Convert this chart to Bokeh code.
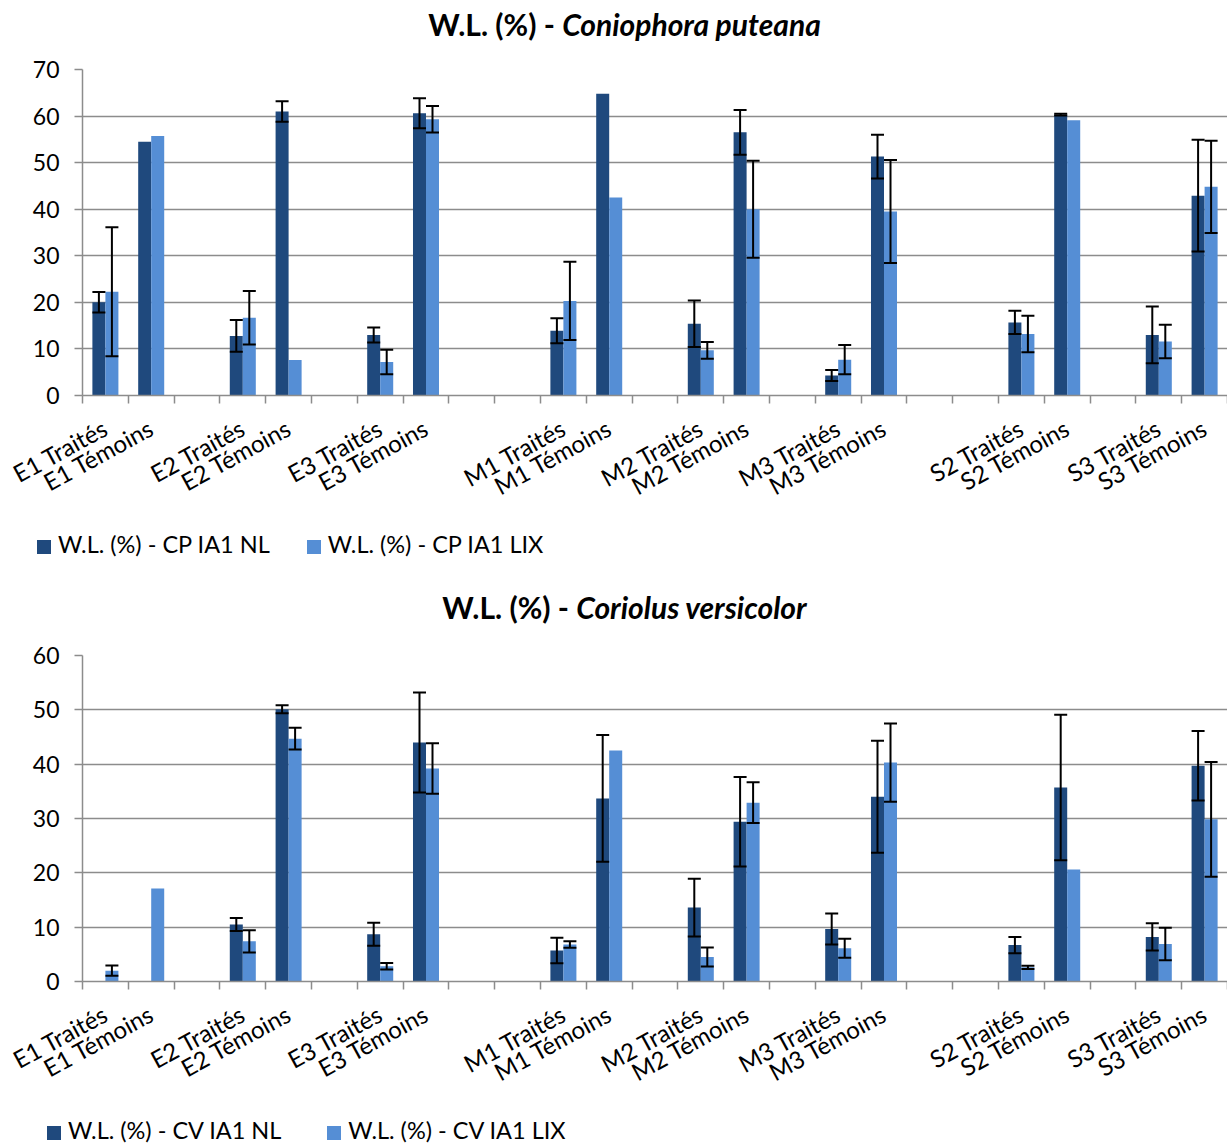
import numpy as np
from bokeh.plotting import figure
from bokeh.models import (ColumnDataSource, Range1d, FixedTicker, Whisker, TeeHead, Div)
from bokeh.layouts import column
from bokeh.embed import file_html
from bokeh.resources import INLINE

# ---------------- data ----------------
categories = ["E1 Traités", "E1 Témoins", "", "E2 Traités", "E2 Témoins", "",
              "E3 Traités", "E3 Témoins", "", "",
              "M1 Traités", "M1 Témoins", "", "M2 Traités", "M2 Témoins", "",
              "M3 Traités", "M3 Témoins", "", "",
              "S2 Traités", "S2 Témoins", "", "S3 Traités", "S3 Témoins"]

# values for the non-blank categories, in order
cp_nl = [20.0, 54.5, 12.8, 61.0, 13.0, 60.6, 13.9, 64.8, 15.4, 56.5, 4.3, 51.3, 15.7, 60.3, 13.0, 42.9]
cp_nl_err = [2.2, None, 3.4, 2.2, 1.6, 3.2, 2.7, None, 5.0, 4.8, 1.2, 4.7, 2.5, 0.2, 6.1, 12.0]
cp_lix = [22.3, 55.7, 16.7, 7.6, 7.2, 59.3, 20.3, 42.5, 9.7, 40.0, 7.7, 39.5, 13.2, 59.1, 11.6, 44.8]
cp_lix_err = [13.85, None, 5.75, None, 2.65, 2.85, 8.4, None, 1.8, 10.4, 3.15, 11.05, 3.9, None, 3.6, 9.9]

cv_nl = [None, None, 10.5, 50.1, 8.7, 44.0, 5.7, 33.7, 13.6, 29.4, 9.65, 34.0, 6.7, 35.7, 8.2, 39.7]
cv_nl_err = [None, None, 1.2, 0.75, 2.1, 9.2, 2.35, 11.65, 5.3, 8.25, 2.85, 10.3, 1.5, 13.4, 2.5, 6.4]
cv_lix = [2.0, 17.1, 7.4, 44.7, 2.8, 39.2, 6.8, 42.5, 4.5, 32.9, 6.1, 40.3, 2.6, 20.6, 6.9, 29.85]
cv_lix_err = [0.95, None, 2.05, 2.0, 0.6, 4.65, 0.6, None, 1.75, 3.75, 1.75, 7.2, 0.3, None, 3.0, 10.55]

cp_series = ["W.L. (%) - CP IA1 NL", "W.L. (%) - CP IA1 LIX"]
cv_series = ["W.L. (%) - CV IA1 NL", "W.L. (%) - CV IA1 LIX"]
cp_title = ("W.L. (%) - ", "Coniophora puteana")
cv_title = ("W.L. (%) - ", "Coriolus versicolor")

# ---------------- style ----------------
FONT = "Lato"
DARK = "#1F497D"
LIGHT = "#558ED5"
GREY = "#8C8C8C"
BAR_W = 0.284
W = 1227


def make_title(parts, height, pad_top, line_h):
    return Div(text="<b>%s<i>%s</i></b>" % parts, width=W, height=height, margin=0,
               styles={"font-family": FONT, "font-size": "30px", "line-height": "%dpx" % line_h,
                       "padding-top": "%dpx" % pad_top, "text-align": "center",
                       "padding-left": "22px", "color": "black", "box-sizing": "border-box",
                       "white-space": "nowrap"})


def make_legend(series, height, pad_top, line_h, left, gap):
    sq = ('<span style="display:inline-block;width:14px;height:14px;background:%s;'
          'vertical-align:-1px;margin-left:%dpx"></span>')
    tx = '<span style="margin-left:7px">%s</span>'
    html = (sq % (DARK, left)) + (tx % series[0]) + (sq % (LIGHT, gap)) + (tx % series[1])
    return Div(text=html, width=W, height=height, margin=0,
               styles={"font-family": FONT, "font-size": "23.5px", "line-height": "%dpx" % line_h,
                       "padding-top": "%dpx" % pad_top, "color": "black",
                       "box-sizing": "border-box", "white-space": "nowrap"})


def make_chart(nl, nl_err, lix, lix_err, ymax, height, top_border):
    n = len(categories)
    pos = [i + 0.5 for i, c in enumerate(categories) if c]
    labels = [c for c in categories if c]

    p = figure(width=W, height=height, x_range=Range1d(0, n), y_range=Range1d(0, ymax),
               output_backend="svg", toolbar_location=None, margin=0,
               min_border_left=82, min_border_right=0, min_border_top=top_border,
               min_border_bottom=height - top_border - 326, outline_line_color=None)

    for vals, errs, shift, color in ((nl, nl_err, -BAR_W / 2, DARK), (lix, lix_err, BAR_W / 2, LIGHT)):
        xs = [x + shift for x, v in zip(pos, vals) if v is not None]
        tops = [v for v in vals if v is not None]
        src = ColumnDataSource(dict(x=xs, top=tops))
        p.vbar(x="x", top="top", width=BAR_W, bottom=0, source=src,
               fill_color=color, line_color=None)
        ex = [x + shift for x, v, e in zip(pos, vals, errs) if v is not None and e is not None]
        eu = [v + e for v, e in zip(vals, errs) if v is not None and e is not None]
        el = [v - e for v, e in zip(vals, errs) if v is not None and e is not None]
        esrc = ColumnDataSource(dict(x=ex, upper=eu, lower=el))
        wh = Whisker(base="x", upper="upper", lower="lower", source=esrc,
                     line_color="black", line_width=2, level="overlay",
                     upper_head=TeeHead(size=13, line_width=2, line_color="black"),
                     lower_head=TeeHead(size=13, line_width=2, line_color="black"))
        p.add_layout(wh)

    # axes
    p.xaxis.ticker = FixedTicker(ticks=pos, minor_ticks=list(range(n + 1)))
    p.xaxis.major_label_overrides = {x: l for x, l in zip(pos, labels)}
    p.xaxis.major_tick_line_color = None
    p.xaxis.major_tick_out = 0
    p.xaxis.major_tick_in = 0
    p.xaxis.minor_tick_out = 8
    p.xaxis.minor_tick_in = 0
    p.xaxis.minor_tick_line_color = GREY
    p.xaxis.minor_tick_line_width = 1.5
    p.xaxis.axis_line_color = GREY
    p.xaxis.axis_line_width = 1.5
    p.xaxis.major_label_orientation = 0.5
    p.xaxis.major_label_standoff = 22
    p.xaxis.major_label_text_font = FONT
    p.xaxis.major_label_text_font_size = "24px"
    p.xaxis.major_label_text_color = "black"

    p.yaxis.ticker = FixedTicker(ticks=list(range(0, ymax + 1, 10)))
    p.yaxis.minor_tick_line_color = None
    p.yaxis.major_tick_out = 8
    p.yaxis.major_tick_in = 0
    p.yaxis.major_tick_line_color = GREY
    p.yaxis.major_tick_line_width = 1.5
    p.yaxis.axis_line_color = GREY
    p.yaxis.axis_line_width = 1.5
    p.yaxis.major_label_standoff = 15
    p.yaxis.major_label_text_font = FONT
    p.yaxis.major_label_text_font_size = "23px"
    p.yaxis.major_label_text_color = "black"

    p.xgrid.visible = False
    p.ygrid.ticker = FixedTicker(ticks=list(range(0, ymax + 1, 10)))
    p.ygrid.grid_line_color = GREY
    p.ygrid.grid_line_width = 1.5
    return p


t1 = make_title(cp_title, 48, 6, 36)
p1 = make_chart(cp_nl, cp_nl_err, cp_lix, cp_lix_err, 70, height=476, top_border=21)
l1 = make_legend(cp_series, 40, 6, 28, 37, 37)
t2 = make_title(cv_title, 70, 25, 36)
p2 = make_chart(cv_nl, cv_nl_err, cv_lix, cv_lix_err, 60, height=474, top_border=21)
l2 = make_legend(cv_series, 36, 8, 28, 47, 46)

layout = column(t1, p1, l1, t2, p2, l2, spacing=0, margin=0)
open("out.html", "w").write(file_html(layout, INLINE))
